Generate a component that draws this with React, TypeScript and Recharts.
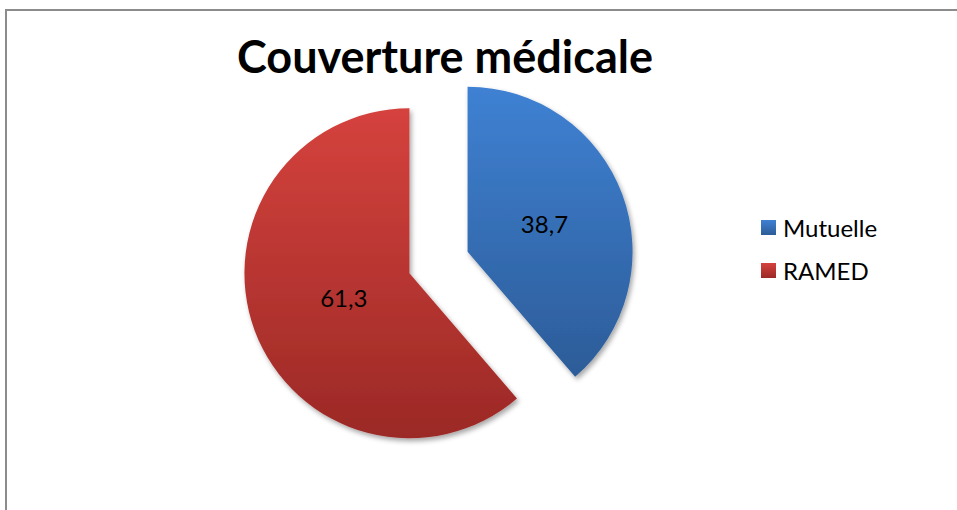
import { PieChart, Pie, Cell, Legend } from "recharts";

const categories = ["Mutuelle", "RAMED"];
const values = [38.7, 61.3];
const valueLabels = ["38,7", "61,3"];

const COLORS = [
  ["#3f81d3", "#2c5c98"], // Mutuelle
  ["#d5423d", "#9b2926"], // RAMED
];

const data = categories.map((name, i) => ({ name, value: values[i] }));

const RADIAN = Math.PI / 180;
const BASE_CX = 438.5;
const BASE_CY = 262.5;
const EXPLODE = 31;
const RADIUS = 165;
const FONT = "Lato, 'Open Sans', sans-serif";

// angle (clockwise from 12 o'clock) at the middle of each slice
const total = values.reduce((a, b) => a + b, 0);
const midAngles = values.map((v, i) => {
  const before = values.slice(0, i).reduce((a, b) => a + b, 0);
  return ((before + v / 2) / total) * 360;
});

function renderLabel(only: number) {
  return (props: any) => {
    const { cx, cy, midAngle, index } = props;
    if (index !== only) return null;
    const r = only === 0 ? 82 : 70;
    const x = cx + r * Math.cos(-midAngle * RADIAN);
    const y = cy + r * Math.sin(-midAngle * RADIAN);
    return (
      <text
        x={x}
        y={y}
        textAnchor="middle"
        dominantBaseline="central"
        fill="#000"
        fontSize={24}
        fontFamily={FONT}
      >
        {valueLabels[index]}
      </text>
    );
  };
}

function LegendBox() {
  return (
    <div style={{ fontFamily: FONT, fontSize: 24, color: "#000" }}>
      {categories.map((c, i) => (
        <div key={c} style={{ display: "flex", alignItems: "center", height: 43 }}>
          <span
            style={{
              display: "inline-block",
              width: 15,
              height: 15,
              marginRight: 7,
              background: `linear-gradient(${COLORS[i][0]}, ${COLORS[i][1]})`,
            }}
          />
          {c}
        </div>
      ))}
    </div>
  );
}

export default function App() {
  return (
    <div style={{ position: "absolute", left: 0, top: 0, width: 957, height: 510, background: "#fff", overflow: "hidden" }}>
      <div
        style={{
          position: "absolute",
          left: 5,
          top: 9,
          width: 960,
          height: 510,
          borderTop: "2px solid #8c8c8c",
          borderLeft: "2px solid #8c8c8c",
        }}
      />
      <div
        style={{
          position: "absolute",
          left: 0,
          width: 890,
          top: 29,
          textAlign: "center",
          fontFamily: FONT,
          fontWeight: 700,
          fontSize: 45,
          color: "#000",
          zIndex: 2,
        }}
      >
        Couverture médicale
      </div>
      <div style={{ position: "absolute", left: 0, top: 0 }}>
        <PieChart width={957} height={510} margin={{ top: 0, right: 0, bottom: 0, left: 0 }}>
          <defs>
            {COLORS.map((c, i) => (
              <linearGradient key={i} id={`grad${i}`} x1="0" y1="0" x2="0" y2="1">
                <stop offset="0%" stopColor={c[0]} />
                <stop offset="100%" stopColor={c[1]} />
              </linearGradient>
            ))}
            <filter id="shadow" x="-20%" y="-20%" width="140%" height="140%">
              <feDropShadow dx="2" dy="3" stdDeviation="2.5" floodColor="#000" floodOpacity="0.35" />
            </filter>
          </defs>
          {categories.map((_, k) => (
            <Pie
              key={k}
              data={data}
              dataKey="value"
              nameKey="name"
              cx={BASE_CX + EXPLODE * Math.sin(midAngles[k] * RADIAN)}
              cy={BASE_CY - EXPLODE * Math.cos(midAngles[k] * RADIAN)}
              outerRadius={RADIUS}
              startAngle={90}
              endAngle={-270}
              stroke="none"
              label={renderLabel(k)}
              labelLine={false}
              isAnimationActive={false}
            >
              {data.map((_, i) => (
                <Cell
                  key={i}
                  fill={i === k ? `url(#grad${i})` : "none"}
                  filter={i === k ? "url(#shadow)" : undefined}
                />
              ))}
            </Pie>
          ))}
          <Legend
            layout="vertical"
            content={<LegendBox />}
            wrapperStyle={{ position: "absolute", left: 761, top: 206, width: 160 }}
          />
        </PieChart>
      </div>
    </div>
  );
}
